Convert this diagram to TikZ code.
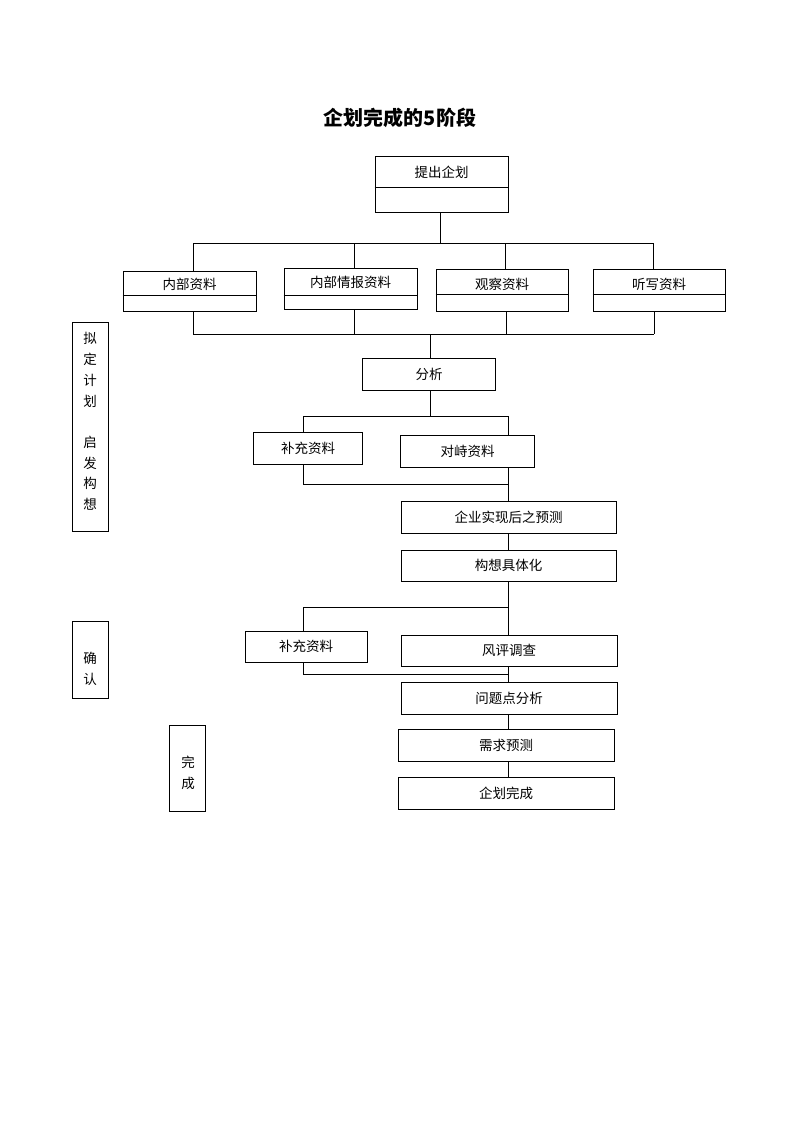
\documentclass[tikz,border=0pt]{standalone}
\usepackage{fontspec}
\setmainfont{Noto Sans CJK SC}
\begin{document}
\begin{tikzpicture}[x=1pt,y=-1pt,line width=0.8pt,
  box/.style={draw,inner sep=0pt,font=\fontsize{13.5}{16}\selectfont},
  txt/.style={inner sep=0pt,font=\fontsize{13.5}{16}\selectfont},
  side/.style={inner sep=0pt,align=center,font=\fontsize{13.5}{20.7}\selectfont}]
\useasboundingbox (0,0) rectangle (800,1132);
\node[font=\bfseries\fontsize{20}{24}\selectfont] (title) at (400,118) {企划完成的5阶段};

% top box
\node[box,minimum width=133pt,minimum height=56pt] (top) at (441.5,184) {};
\node[txt] (topt) at (441.5,172) {提出企划};
\coordinate (d0) at (0,187);
\draw (top.west |- d0) -- (top.east |- d0);

% four source boxes
\node[box,minimum width=133pt,minimum height=40pt] (b1) at (189.5,291) {};
\node[txt] (b1t) at (189.5,284) {内部资料};
\node[box,minimum width=133pt,minimum height=41pt] (b2) at (350.5,288.5) {};
\node[txt] (b2t) at (350.5,282) {内部情报资料};
\node[box,minimum width=132pt,minimum height=42pt] (b3) at (502,290) {};
\node[txt] (b3t) at (502,284) {观察资料};
\node[box,minimum width=132pt,minimum height=42pt] (b4) at (659,290) {};
\node[txt] (b4t) at (659,284) {听写资料};
\coordinate (d1) at (0,295);
\coordinate (d2) at (0,294);
\draw (b1.west |- d1) -- (b1.east |- d1);
\draw (b2.west |- d1) -- (b2.east |- d1);
\draw (b3.west |- d2) -- (b3.east |- d2);
\draw (b4.west |- d2) -- (b4.east |- d2);

% analysis chain
\node[box,minimum width=133pt,minimum height=32pt] (an) at (429,374) {分析};
\node[box,minimum width=109pt,minimum height=32pt] (s1) at (308,448) {补充资料};
\node[box,minimum width=134pt,minimum height=32pt] (dz) at (467.5,451) {对峙资料};
\node[box,minimum width=215pt,minimum height=32pt] (qy) at (508.5,517) {企业实现后之预测};
\node[box,minimum width=215pt,minimum height=31pt] (gx) at (508.5,565.5) {构想具体化};
\node[box,minimum width=122pt,minimum height=31pt] (s2) at (306,646.5) {补充资料};
\node[box,minimum width=216pt,minimum height=31pt] (fp) at (509,650.5) {风评调查};
\node[box,minimum width=216pt,minimum height=32pt] (wt) at (509,698) {问题点分析};
\node[box,minimum width=216pt,minimum height=32pt] (xq) at (506,745) {需求预测};
\node[box,minimum width=216pt,minimum height=32pt] (wc) at (506,793) {企划完成};

% side phase boxes
\node[draw,minimum width=36.5pt,minimum height=209pt] (p1) at (90.25,426.5) {};
\node[side] (p1t) at (90,421.5) {拟\\定\\计\\划\\[20.7pt]启\\发\\构\\想};
\node[draw,minimum width=36.5pt,minimum height=77pt] (p2) at (90.25,659.5) {};
\node[side] (p2t) at (90,668.5) {确\\认};
\node[draw,minimum width=36pt,minimum height=86pt] (p3) at (187,768) {};
\node[side] (p3t) at (188,772.5) {完\\成};

% connectors: top to sources
\coordinate (j1) at (440,243);
\coordinate (j1a) at (193,243);
\coordinate (j1b) at (354,243);
\coordinate (j1c) at (505,243);
\coordinate (j1d) at (653,243);
\draw (j1 |- top.south) -- (j1);
\draw (j1a) -- (j1d);
\draw (j1a) -- (j1a |- b1.north);
\draw (j1b) -- (j1b |- b2.north);
\draw (j1c) -- (j1c |- b3.north);
\draw (j1d) -- (j1d |- b4.north);

% sources to analysis
\coordinate (k1a) at (193,334);
\coordinate (k1b) at (354,334);
\coordinate (k1c) at (506,334);
\coordinate (k1d) at (654,334);
\coordinate (k1m) at (430,334);
\draw (k1a |- b1.south) -- (k1a);
\draw (k1b |- b2.south) -- (k1b);
\draw (k1c |- b3.south) -- (k1c);
\draw (k1d |- b4.south) -- (k1d);
\draw (k1a) -- (k1d);
\draw (k1m) -- (k1m |- an.north);

% analysis to supplements
\coordinate (j2L) at (303,416);
\coordinate (j2R) at (508,416);
\coordinate (j2m) at (430,416);
\draw (j2m |- an.south) -- (j2m);
\draw (j2L) -- (j2R);
\draw (j2L) -- (j2L |- s1.north);
\draw (j2R) -- (j2R |- dz.north);
\coordinate (j3L) at (303,484);
\coordinate (j3R) at (508,484);
\draw (j3L |- s1.south) -- (j3L) -- (j3R);
\draw (j3R |- dz.south) -- (j3R |- qy.north);
\draw (j3R |- qy.south) -- (j3R |- gx.north);

% confirmation part
\coordinate (j4L) at (303,607);
\coordinate (j4R) at (508,607);
\draw (j4R |- gx.south) -- (j4R |- fp.north);
\draw (j4L) -- (j4R);
\draw (j4L) -- (j4L |- s2.north);
\coordinate (j5L) at (303,674);
\coordinate (j5R) at (508,674);
\draw (j5L |- s2.south) -- (j5L) -- (j5R);
\draw (j5R |- fp.south) -- (j5R |- wt.north);
\draw (j5R |- wt.south) -- (j5R |- xq.north);
\draw (j5R |- xq.south) -- (j5R |- wc.north);
\end{tikzpicture}
\end{document}
